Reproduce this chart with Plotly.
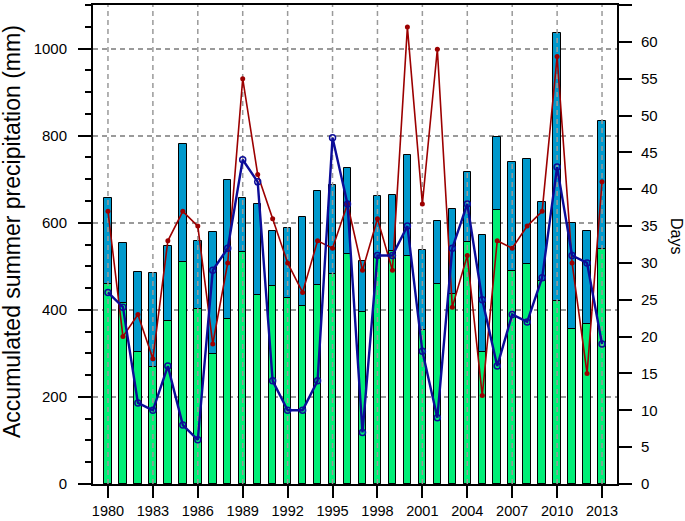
import plotly.graph_objects as go

years = list(range(1980, 2014))
total_precip = [657, 553, 486, 484, 546, 780, 559, 578, 697, 657, 644, 582, 588, 613, 674, 687, 726, 511,
                662, 664, 756, 538, 605, 631, 717, 571, 797, 739, 746, 647, 1035, 599, 581, 834]
part_precip = [460, 415, 302, 268, 375, 510, 402, 298, 380, 533, 434, 455, 427, 409, 456, 482, 529, 395,
               520, 534, 523, 354, 459, 436, 556, 303, 630, 489, 506, 467, 421, 356, 368, 540]
days_red = [37, 20, 23, 17, 33, 37, 35, 19, 30, 55, 42, 36, 30, 26, 33, 32, 38, 29,
            36, 29, 62, 38, 59, 24, 31, 12, 33, 32, 35, 37, 58, 30, 15, 41]
days_blue = [26, 24, 11, 10, 16, 8, 6, 29, 32, 44, 41, 14, 10, 10, 14, 47, 38, 7,
             31, 31, 35, 18, 9, 32, 38, 25, 16, 23, 22, 28, 43, 31, 30, 19]
x_ticks = list(range(1980, 2014, 3))
y_left_ticks = [0, 200, 400, 600, 800, 1000]
y_right_ticks = list(range(0, 66, 5))

Y_MAX = 1100
D_MAX = 65
FONT = "Liberation Sans, Arial, Helvetica, sans-serif"
GRID = "#9a9a9a"
DASH = "5px,4px"

fig = go.Figure()
fig.add_trace(go.Bar(x=years, y=total_precip, width=0.5, marker=dict(color="#0099cc", line=dict(color="black", width=1)),
                     showlegend=False))
fig.add_trace(go.Bar(x=years, y=part_precip, width=0.5, marker=dict(color="#00ee76", line=dict(color="black", width=1)),
                     showlegend=False))

# vertical grid lines drawn above bars (as in reference)
gx, gy = [], []
for t in x_ticks:
    gx += [t, t, None]
    gy += [0, Y_MAX, None]
fig.add_trace(go.Scatter(x=gx, y=gy, mode="lines", line=dict(color=GRID, width=1.5, dash=DASH),
                         hoverinfo="skip", showlegend=False))

fig.add_trace(go.Scatter(x=years, y=days_red, yaxis="y2", mode="lines+markers",
                         line=dict(color="#9c0000", width=1.6),
                         marker=dict(color="#9c0000", size=5, symbol="circle"), showlegend=False))
fig.add_trace(go.Scatter(x=years, y=days_blue, yaxis="y2", mode="lines+markers",
                         line=dict(color="#0c0c98", width=2.4),
                         marker=dict(color="#0c0c98", size=6, symbol="circle-open", line=dict(width=1.5)),
                         showlegend=False))

fig.update_layout(
    width=685, height=521,
    margin=dict(l=93, r=68, t=5, b=37, autoexpand=False),
    paper_bgcolor="white", plot_bgcolor="white",
    barmode="overlay", bargap=0,
    font=dict(family=FONT, size=15, color="black"),
    xaxis=dict(range=[1979, 2014], tickvals=x_ticks, ticktext=[str(t) for t in x_ticks],
               showgrid=False, zeroline=False, showline=True, linecolor="black", linewidth=2,
               mirror=True, ticks="outside", ticklen=12, tickwidth=2, tickcolor="black",
               ticklabelstandoff=1, tickfont=dict(size=14.5), automargin=False),
    yaxis=dict(range=[0, Y_MAX], tickvals=y_left_ticks, showgrid=True, gridcolor=GRID, gridwidth=1.5,
               griddash=DASH, zeroline=False, showline=True, linecolor="black", linewidth=2,
               ticks="outside", ticklen=13, tickwidth=2, tickcolor="black", ticklabelstandoff=8,
               tickfont=dict(size=15), automargin=False,
               minor=dict(dtick=50, tick0=0, ticks="outside", ticklen=6, tickwidth=1.5, tickcolor="black",
                          showgrid=False)),
    yaxis2=dict(range=[0, D_MAX], tickvals=y_right_ticks, overlaying="y", side="right", showgrid=False,
                zeroline=False, showline=True, linecolor="black", linewidth=2,
                ticks="outside", ticklen=13, tickwidth=2, tickcolor="black", ticklabelstandoff=6,
                tickfont=dict(size=15), automargin=False),
    annotations=[
        dict(text="Accumulated summer precipitation (mm)", xref="paper", yref="paper",
             x=(12 - 93) / 524, y=(484 - 232) / 479, xanchor="center", yanchor="middle",
             textangle=-90, showarrow=False, font=dict(size=23, family=FONT)),
        dict(text="Days", xref="paper", yref="paper",
             x=(677 - 93) / 524, y=(484 - 236) / 479, xanchor="center", yanchor="middle",
             textangle=90, showarrow=False, font=dict(size=16, family=FONT)),
    ],
)

fig.write_html("out.html", config={"displayModeBar": False},
               post_script="document.body.style.margin='0px';document.body.style.overflow='hidden';")
